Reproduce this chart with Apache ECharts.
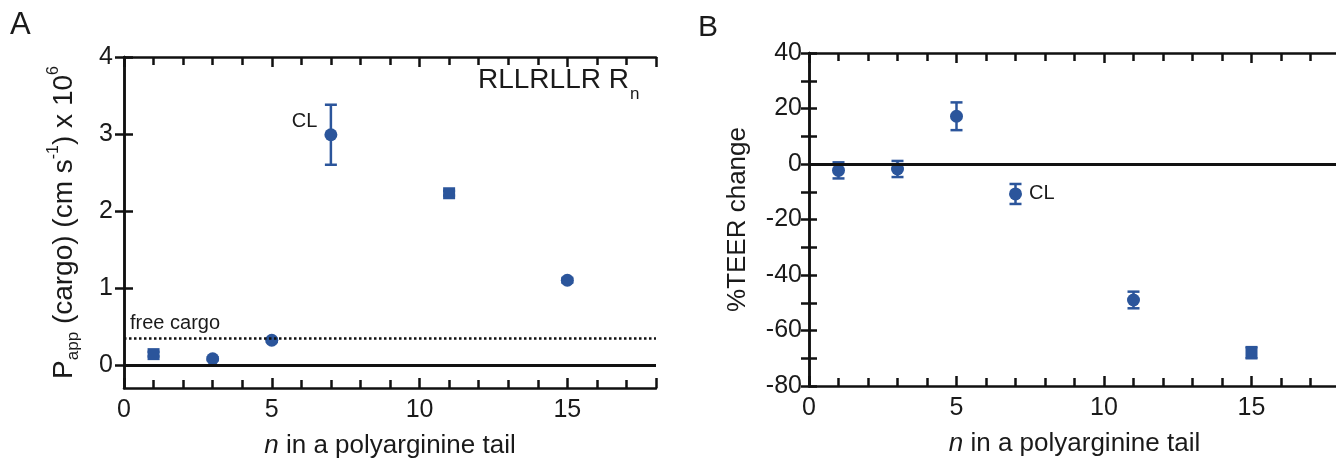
<!DOCTYPE html>
<html>
<head>
<meta charset="utf-8">
<script src="https://cdn.jsdelivr.net/npm/echarts@6/dist/echarts.min.js"></script>
<style>
  html, body { margin: 0; padding: 0; background: #fff; }
  #chart { width: 1336px; height: 460px; }
</style>
</head>
<body>
<div id="chart"></div>
<script>
// panel A: permeability of cargo vs tail length
const nA = [1, 3, 5, 7, 11, 15];
const pappVals = [0.14, 0.08, 0.32, 2.99, 2.23, 1.10];
const pappErrs = [0.03, 0.02, 0.02, 0.39, 0.03, 0.03];
const pappSymbols = ['rect', 'circle', 'circle', 'circle', 'rect', 'circle'];
const freeCargo = 0.35;
const yTicksA = [0, 1, 2, 3, 4];

// panel B: TEER change vs tail length
const nB = [1, 3, 5, 7, 11, 15];
const teerVals = [-2.3, -1.8, 17.2, -10.8, -49, -68];
const teerErrs = [2.9, 2.9, 5, 3.6, 3, 2];
const teerSymbols = ['circle', 'circle', 'circle', 'circle', 'circle', 'rect'];

const clIndex = 3; // n = 7 is the CL peptide

const font = "'Liberation Sans', Arial, Helvetica, sans-serif";
const ink = '#111';
const textColor = '#1a1a1a';
const blue = '#2b559b';

const chart = echarts.init(document.getElementById('chart'));

function errorBar(params, api) {
  const x = api.value(0), y = api.value(1), e = api.value(2);
  const hi = api.coord([x, y + e]);
  const lo = api.coord([x, y - e]);
  const w = 6;
  const style = { stroke: blue, lineWidth: 2.5 };
  return {
    type: 'group',
    children: [
      { type: 'line', shape: { x1: hi[0], y1: hi[1], x2: lo[0], y2: lo[1] }, style: style },
      { type: 'line', shape: { x1: hi[0] - w, y1: hi[1], x2: hi[0] + w, y2: hi[1] }, style: style },
      { type: 'line', shape: { x1: lo[0] - w, y1: lo[1], x2: lo[0] + w, y2: lo[1] }, style: style }
    ]
  };
}

const lineStyle = { color: ink, width: 2.5 };

function xAxes(gridIndex) {
  const base = {
    type: 'value', gridIndex: gridIndex, min: 0, max: 18, interval: 5,
    axisLine: { onZero: false, lineStyle: lineStyle },
    axisTick: { inside: true, length: 10, lineStyle: lineStyle },
    minorTick: { show: true, splitNumber: 5, length: 8, lineStyle: lineStyle },
    splitLine: { show: false }
  };
  return [
    Object.assign({}, base, {
      position: 'bottom',
      axisLabel: { fontSize: 25, color: textColor, fontFamily: font, margin: 10, showMaxLabel: false },
      name: '{i|n} in a polyarginine tail',
      nameLocation: 'middle',
      nameGap: 45,
      nameTextStyle: {
        fontSize: 26, color: textColor, fontFamily: font,
        rich: { i: { fontSize: 26, fontStyle: 'italic', color: textColor, fontFamily: font } }
      }
    }),
    Object.assign({}, base, { position: 'top', axisLabel: { show: false } })
  ];
}

const yA = {
  type: 'value', gridIndex: 0, min: -0.3, max: 4,
  axisLine: { lineStyle: lineStyle },
  axisTick: { inside: true, length: 9, lineStyle: lineStyle, customValues: yTicksA },
  splitLine: { show: false }
};
const yB = {
  type: 'value', gridIndex: 1, min: -80, max: 40, interval: 20,
  axisLine: { lineStyle: lineStyle },
  axisTick: { inside: true, length: 8, lineStyle: lineStyle },
  minorTick: { show: true, splitNumber: 2, length: 8, lineStyle: lineStyle },
  splitLine: { show: false }
};

const option = {
  animation: false,
  backgroundColor: '#fff',
  grid: [
    { left: 124, top: 57, width: 532, height: 331, outerBoundsMode: 'none', containLabel: false },
    { left: 809, top: 53, width: 531, height: 333, outerBoundsMode: 'none', containLabel: false }
  ],
  xAxis: xAxes(0).concat(xAxes(1)),
  yAxis: [
    Object.assign({}, yA, {
      position: 'left',
      axisLabel: { fontSize: 25, color: textColor, fontFamily: font, margin: 11, customValues: yTicksA },
      name: 'P{sub|app} (cargo) (cm s{sup|-1}) x 10{sup|6}',
      nameLocation: 'middle',
      nameRotate: 90,
      nameGap: 42,
      nameTextStyle: {
        fontSize: 28, color: textColor, fontFamily: font, lineHeight: 36,
        rich: {
          sub: { fontSize: 17, fontFamily: font, color: textColor, verticalAlign: 'bottom', lineHeight: 36 },
          sup: { fontSize: 16, fontFamily: font, color: textColor, verticalAlign: 'top', lineHeight: 36 }
        }
      }
    }),
    Object.assign({}, yA, { position: 'right', axisLabel: { show: false } }),
    Object.assign({}, yB, {
      position: 'left',
      axisLabel: { fontSize: 25, color: textColor, fontFamily: font, margin: 7 },
      name: '%TEER change',
      nameLocation: 'middle',
      nameRotate: 90,
      nameGap: 58,
      nameTextStyle: { fontSize: 26, color: textColor, fontFamily: font }
    }),
    Object.assign({}, yB, { position: 'right', axisLabel: { show: false } })
  ],
  graphic: [
    { type: 'text', left: 10, top: 10, style: { text: 'A', fontSize: 31, fill: textColor, fontFamily: font } },
    { type: 'text', left: 698, top: 13, style: { text: 'B', fontSize: 30, fill: textColor, fontFamily: font } },
    {
      type: 'text', left: 478, top: 66,
      style: {
        text: '{m|RLLRLLR R}{s|n}',
        rich: {
          m: { fontSize: 28, fill: textColor, fontFamily: font, lineHeight: 32 },
          s: { fontSize: 17, fill: textColor, fontFamily: font, verticalAlign: 'bottom', lineHeight: 32, padding: [0, 0, -7, 1] }
        }
      }
    }
  ],
  series: [
    // reference lines of panel A
    {
      type: 'line', xAxisIndex: 0, yAxisIndex: 0, data: [], silent: true,
      markLine: {
        silent: true, symbol: 'none', animation: false,
        data: [
          { yAxis: 0, lineStyle: { color: ink, width: 3, type: 'solid' }, label: { show: false } },
          {
            yAxis: freeCargo, lineStyle: { color: ink, width: 2.5, type: [2.5, 2.5] },
            label: { show: true, position: 'insideStartTop', formatter: 'free cargo', fontSize: 20, color: textColor, fontFamily: font, distance: [6, 4] }
          }
        ]
      }
    },
    {
      type: 'custom', xAxisIndex: 0, yAxisIndex: 0, renderItem: errorBar, z: 3,
      encode: { x: 0, y: 1 },
      data: nA.map((n, i) => [n, pappVals[i], pappErrs[i]])
    },
    {
      type: 'scatter', xAxisIndex: 0, yAxisIndex: 0, z: 4, symbolSize: 12,
      itemStyle: { color: blue, opacity: 1 },
      data: nA.map((n, i) => ({
        value: [n, pappVals[i]],
        symbol: pappSymbols[i],
        symbolSize: pappSymbols[i] === 'rect' ? 12 : 13,
        label: i === clIndex ? {
          show: true, formatter: 'CL', position: 'left', distance: 7, offset: [0, -13],
          fontSize: 20, color: textColor, fontFamily: font
        } : { show: false }
      }))
    },
    // panel B
    {
      type: 'line', xAxisIndex: 2, yAxisIndex: 2, data: [], silent: true,
      markLine: {
        silent: true, symbol: 'none', animation: false,
        data: [{ yAxis: 0, lineStyle: { color: ink, width: 3, type: 'solid' }, label: { show: false } }]
      }
    },
    {
      type: 'custom', xAxisIndex: 2, yAxisIndex: 2, renderItem: errorBar, z: 3,
      encode: { x: 0, y: 1 },
      data: nB.map((n, i) => [n, teerVals[i], teerErrs[i]])
    },
    {
      type: 'scatter', xAxisIndex: 2, yAxisIndex: 2, z: 4, symbolSize: 13,
      itemStyle: { color: blue, opacity: 1 },
      data: nB.map((n, i) => ({
        value: [n, teerVals[i]],
        symbol: teerSymbols[i],
        symbolSize: teerSymbols[i] === 'rect' ? 12 : 13,
        label: i === clIndex ? {
          show: true, formatter: 'CL', position: 'right', distance: 7,
          fontSize: 20, color: textColor, fontFamily: font
        } : { show: false }
      }))
    }
  ]
};

chart.setOption(option);
</script>
</body>
</html>
